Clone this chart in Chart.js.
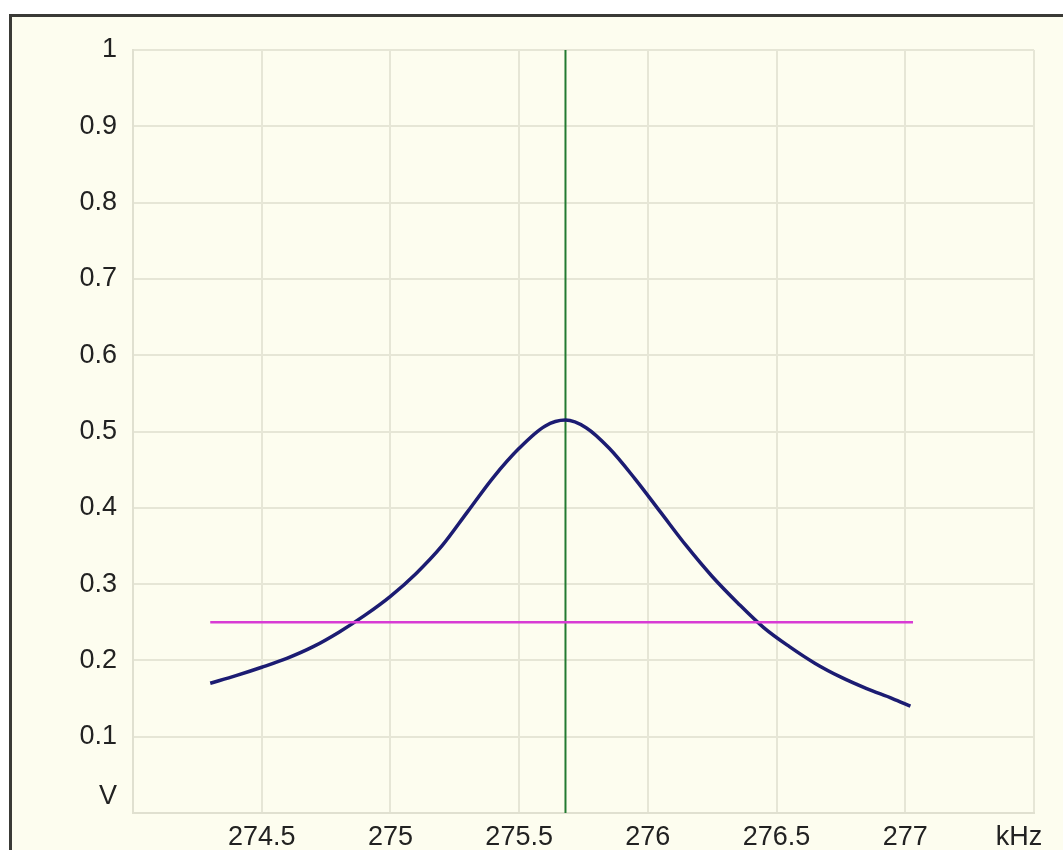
<!DOCTYPE html>
<html>
<head>
<meta charset="utf-8">
<script src="https://cdn.jsdelivr.net/npm/chart.js@4/dist/chart.umd.min.js"></script>
<style>
  html, body { margin: 0; padding: 0; background: #ffffff; }
  .frame {
    position: absolute; left: 9px; top: 14px; width: 1100px; height: 900px;
    border-top: 3px solid #3a3a36; border-left: 3px solid #3a3a36;
    background: #fdfdef;
  }
  #wrap { position: absolute; left: 0; top: 0; width: 1063px; height: 850px; overflow: hidden; }
  canvas { position: absolute; left: 0; top: 0; }
</style>
</head>
<body>
<div id="wrap">
  <div class="frame"></div>
  <canvas id="resChart" width="1063" height="850"></canvas>
</div>
<script>
// measured response (kHz -> V)
const freqs = [274.30, 274.40, 274.50, 274.60, 274.70, 274.80, 274.90, 275.00, 275.10, 275.20,
               275.30, 275.40, 275.50, 275.60, 275.68, 275.76, 275.85, 275.95, 276.05, 276.15,
               276.25, 276.35, 276.45, 276.55, 276.65, 276.75, 276.85, 276.95, 277.02]
const volts = [0.170, 0.180, 0.191, 0.203, 0.218, 0.237, 0.259, 0.284, 0.314, 0.350,
               0.395, 0.440, 0.478, 0.507, 0.515, 0.505, 0.478, 0.438, 0.394, 0.350,
               0.310, 0.275, 0.243, 0.218, 0.196, 0.178, 0.163, 0.150, 0.140]

// resonance marker and half level line
const peakFreq = 275.68
const halfLevel = 0.25
const halfFrom = 274.30
const halfTo = 277.03

const xTicks = [274, 274.5, 275, 275.5, 276, 276.5, 277, 277.5]
const yTicks = [0, 0.1, 0.2, 0.3, 0.4, 0.5, 0.6, 0.7, 0.8, 0.9, 1]

const curve = freqs.map(function(f, i){ return {x: f, y: volts[i]} })

function noPad(scale){
  scale.paddingLeft = 0
  scale.paddingRight = 0
  scale.paddingTop = 0
  scale.paddingBottom = 0
}

const ctx = document.getElementById('resChart').getContext('2d')
const myChart = new Chart(ctx, {
  type: 'scatter',
  data: {
    datasets: [
      {
        data: [{x: halfFrom, y: halfLevel}, {x: halfTo, y: halfLevel}],
        showLine: true, borderColor: '#d83cd4', borderWidth: 2.5, pointRadius: 0
      },
      {
        data: curve,
        showLine: true, borderColor: '#1c1c72', borderWidth: 3.5, pointRadius: 0,
        cubicInterpolationMode: 'monotone'
      },
      {
        data: [{x: peakFreq, y: 0}, {x: peakFreq, y: 1}],
        showLine: true, borderColor: '#237a30', borderWidth: 2, pointRadius: 0
      }
    ]
  },
  options: {
    responsive: false,
    animation: false,
    layout: { padding: { left: 0, top: 50, right: 29, bottom: 0 } },
    plugins: { legend: { display: false }, tooltip: { enabled: false } },
    scales: {
      x: {
        type: 'linear', min: 274, max: 277.5,
        afterBuildTicks: function(scale){ scale.ticks = xTicks.map(function(v){ return {value: v} }) },
        afterFit: function(scale){ scale.height = 37; noPad(scale) },
        grid: { color: '#e6e6d6', lineWidth: 2, drawTicks: false },
        border: { color: '#e0e0d0', width: 2 },
        ticks: {
          color: '#222222', padding: 8, maxRotation: 0, autoSkip: false,
          font: { family: 'Liberation Sans, Arial', size: 27 },
          callback: function(v){
            if (Math.abs(v - 274) < 1e-6) return ''
            if (Math.abs(v - 277.5) < 1e-6) return 'kHz    '
            return String(v)
          }
        }
      },
      y: {
        min: 0, max: 1,
        afterBuildTicks: function(scale){ scale.ticks = yTicks.map(function(v){ return {value: v} }) },
        afterFit: function(scale){ scale.width = 133; noPad(scale) },
        grid: { color: '#e6e6d6', lineWidth: 2, drawTicks: false },
        border: { color: '#e0e0d0', width: 2 },
        ticks: {
          color: '#222222', padding: 16,
          font: { family: 'Liberation Sans, Arial', size: 27 },
          callback: function(v){
            if (v === 0) return ['V', '']
            return String(+v.toFixed(1))
          }
        }
      }
    }
  }
})
</script>
</body>
</html>
